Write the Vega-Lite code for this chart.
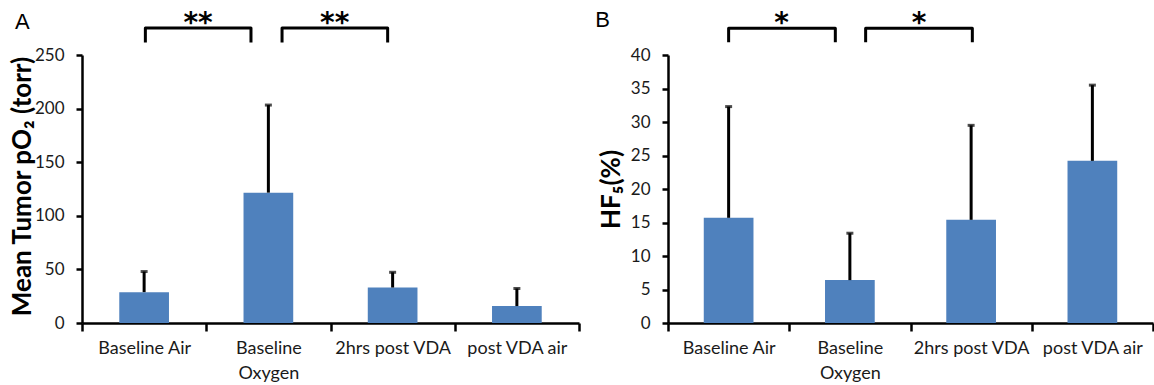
{
  "$schema": "https://vega.github.io/schema/vega-lite/v6.json",
  "background": "white",
  "padding": {"left": 8, "top": 8, "right": 0, "bottom": 0},
  "spacing": 14,
  "datasets": {
    "a": [
      {"cond": "Baseline Air", "mean": 28.8, "upper": 48.0},
      {"cond": "Baseline Oxygen", "mean": 121.6, "upper": 203.3},
      {"cond": "2hrs post VDA", "mean": 33.1, "upper": 47.3},
      {"cond": "post VDA air", "mean": 15.8, "upper": 32.2}
    ],
    "b": [
      {"cond": "Baseline Air", "mean": 15.7, "upper": 32.3},
      {"cond": "Baseline Oxygen", "mean": 6.4, "upper": 13.4},
      {"cond": "2hrs post VDA", "mean": 15.4, "upper": 29.5},
      {"cond": "post VDA air", "mean": 24.2, "upper": 35.5}
    ],
    "brA": [
      {"g": 1, "o": 0, "x": 0.51, "y": 261.7},
      {"g": 1, "o": 1, "x": 0.51, "y": 275.2},
      {"g": 1, "o": 2, "x": 1.36, "y": 275.2},
      {"g": 1, "o": 3, "x": 1.36, "y": 261.7},
      {"g": 2, "o": 0, "x": 1.61, "y": 261.7},
      {"g": 2, "o": 1, "x": 1.61, "y": 275.2},
      {"g": 2, "o": 2, "x": 2.46, "y": 275.2},
      {"g": 2, "o": 3, "x": 2.46, "y": 261.7}
    ],
    "brB": [
      {"g": 1, "o": 0, "x": 0.50, "y": 41.9},
      {"g": 1, "o": 1, "x": 0.50, "y": 44.0},
      {"g": 1, "o": 2, "x": 1.38, "y": 44.0},
      {"g": 1, "o": 3, "x": 1.38, "y": 41.9},
      {"g": 2, "o": 0, "x": 1.63, "y": 41.9},
      {"g": 2, "o": 1, "x": 1.63, "y": 44.0},
      {"g": 2, "o": 2, "x": 2.51, "y": 44.0},
      {"g": 2, "o": 3, "x": 2.51, "y": 41.9}
    ],
    "stA": [
      {"t": "**", "x": 0.934, "y": 271.5},
      {"t": "**", "x": 2.034, "y": 271.5}
    ],
    "stB": [
      {"t": "*", "x": 0.936, "y": 43.4},
      {"t": "*", "x": 2.07, "y": 43.4}
    ],
    "lbA": [{"t": "A", "x": -0.54, "y": 274}],
    "lbB": [{"t": "B", "x": -0.6, "y": 44.2}]
  },
  "hconcat": [
    {
      "width": 497,
      "height": 268,
      "resolve": {"scale": {"x": "independent"}, "axis": {"x": "independent"}},
      "layer": [
        {
          "data": {"name": "a"},
          "encoding": {
            "x": {"field": "cond", "type": "nominal", "sort": null,
                  "scale": {"paddingInner": 0, "paddingOuter": 0},
                  "axis": {"labelExpr": "datum.value == 'Baseline Oxygen' ? ['Baseline', 'Oxygen'] : datum.label"}},
            "y": {"field": "mean", "type": "quantitative",
                  "scale": {"domain": [0, 250], "nice": false, "zero": true},
                  "axis": {"values": [0, 50, 100, 150, 200, 250], "title": "Mean Tumor pO₂ (torr)", "titleX": -47, "titleY": 131}}
          },
          "layer": [
            {"mark": {"type": "bar", "color": "#4F81BD", "width": {"band": 0.4}}},
            {"mark": {"type": "rule", "color": "black", "strokeWidth": 3}, "encoding": {"y2": {"field": "upper"}}},
            {"mark": {"type": "tick", "color": "black", "orient": "horizontal", "size": 7, "thickness": 3},
             "encoding": {"y": {"field": "upper", "type": "quantitative", "axis": {"values": [0, 50, 100, 150, 200, 250], "title": "Mean Tumor pO₂ (torr)", "titleX": -47, "titleY": 131}}}}
          ]
        },
        {
          "encoding": {
            "x": {"field": "x", "type": "quantitative", "scale": {"domain": [0, 4], "nice": false, "zero": false}, "axis": null},
            "y": {"field": "y", "type": "quantitative", "scale": {"domain": [0, 250], "nice": false},
                  "axis": {"values": [0, 50, 100, 150, 200, 250], "title": "Mean Tumor pO₂ (torr)", "titleX": -47, "titleY": 131}}
          },
          "layer": [
            {"data": {"name": "brA"}, "mark": {"type": "line", "color": "black", "strokeWidth": 3, "strokeJoin": "round", "strokeCap": "butt"},
             "encoding": {"detail": {"field": "g"}, "order": {"field": "o"}}},
            {"data": {"name": "stA"}, "mark": {"type": "text", "font": "DejaVu Sans", "fontWeight": "bold", "fontSize": 28, "baseline": "alphabetic", "align": "center", "color": "black"},
             "encoding": {"text": {"field": "t"}}},
            {"data": {"name": "lbA"}, "mark": {"type": "text", "font": "Liberation Sans", "fontSize": 22, "baseline": "alphabetic", "align": "left", "color": "black"},
             "encoding": {"text": {"field": "t"}}}
          ]
        }
      ]
    },
    {
      "width": 485,
      "height": 268,
      "resolve": {"scale": {"x": "independent"}, "axis": {"x": "independent"}},
      "layer": [
        {
          "data": {"name": "b"},
          "encoding": {
            "x": {"field": "cond", "type": "nominal", "sort": null,
                  "scale": {"paddingInner": 0, "paddingOuter": 0},
                  "axis": {"labelExpr": "datum.value == 'Baseline Oxygen' ? ['Baseline', 'Oxygen'] : datum.label"}},
            "y": {"field": "mean", "type": "quantitative",
                  "scale": {"domain": [0, 40], "nice": false, "zero": true},
                  "axis": {"values": [0, 5, 10, 15, 20, 25, 30, 35, 40], "title": "HF₅(%)", "titleX": -44}}
          },
          "layer": [
            {"mark": {"type": "bar", "color": "#4F81BD", "width": {"band": 0.41}}},
            {"mark": {"type": "rule", "color": "black", "strokeWidth": 3}, "encoding": {"y2": {"field": "upper"}}},
            {"mark": {"type": "tick", "color": "black", "orient": "horizontal", "size": 7, "thickness": 3},
             "encoding": {"y": {"field": "upper", "type": "quantitative", "axis": {"values": [0, 5, 10, 15, 20, 25, 30, 35, 40], "title": "HF₅(%)", "titleX": -44}}}}
          ]
        },
        {
          "encoding": {
            "x": {"field": "x", "type": "quantitative", "scale": {"domain": [0, 4], "nice": false, "zero": false}, "axis": null},
            "y": {"field": "y", "type": "quantitative", "scale": {"domain": [0, 40], "nice": false},
                  "axis": {"values": [0, 5, 10, 15, 20, 25, 30, 35, 40], "title": "HF₅(%)", "titleX": -44}}
          },
          "layer": [
            {"data": {"name": "brB"}, "mark": {"type": "line", "color": "black", "strokeWidth": 3, "strokeJoin": "round", "strokeCap": "butt"},
             "encoding": {"detail": {"field": "g"}, "order": {"field": "o"}}},
            {"data": {"name": "stB"}, "mark": {"type": "text", "font": "DejaVu Sans", "fontWeight": "bold", "fontSize": 28, "baseline": "alphabetic", "align": "center", "color": "black"},
             "encoding": {"text": {"field": "t"}}},
            {"data": {"name": "lbB"}, "mark": {"type": "text", "font": "Liberation Sans", "fontSize": 22, "baseline": "alphabetic", "align": "left", "color": "black"},
             "encoding": {"text": {"field": "t"}}}
          ]
        }
      ]
    }
  ],
  "config": {
    "view": {"stroke": null},
    "axis": {
      "grid": false,
      "domainColor": "black",
      "domainWidth": 2.5,
      "tickColor": "black",
      "tickWidth": 2.5,
      "labelColor": "#1a1a1a",
      "labelFont": "Lato",
      "titleFont": "Lato",
      "titleColor": "black",
      "titleFontWeight": "bold"
    },
    "axisX": {
      "tickBand": "extent",
      "tickSize": 8,
      "labelAngle": 0,
      "labelFontSize": 18,
      "labelPadding": 8,
      "labelLineHeight": 25,
      "title": null
    },
    "axisY": {
      "tickSize": 6,
      "labelFontSize": 17,
      "labelPadding": 12,
      "titleFontSize": 26
    }
  }
}
